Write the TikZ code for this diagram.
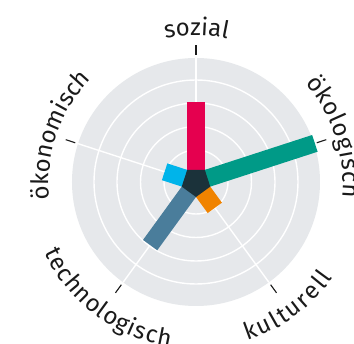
\documentclass[tikz,border=0pt]{standalone}
\usepackage{fontspec}
\setmainfont{Fira Sans}
\usetikzlibrary{decorations.text}
\definecolor{flaeche}{HTML}{E6E8EB}
\definecolor{kern}{HTML}{1B323A}
\definecolor{schrift}{HTML}{1A1A1A}
\definecolor{sozialrot}{HTML}{E5004F}
\definecolor{oekogruen}{HTML}{009A87}
\definecolor{kulturorange}{HTML}{F08300}
\definecolor{technoblau}{HTML}{4A7D9B}
\definecolor{oekonomblau}{HTML}{00B4EA}
\tikzset{
  ring/.style={white,line width=1.4pt},
  balken/.style={line width=17.6pt},
  achsentext/.style={decorate,decoration={text along path,text align={fit to path},
    text color=schrift,text={|\fontsize{24}{28}\selectfont|#1}}}
}
\begin{document}
\begin{tikzpicture}[x=1pt,y=1pt]
  % Rahmen
  \fill[white] (-196,-162) rectangle (158,182);
  \useasboundingbox (-196,-162) rectangle (158,182);
  % Scheibe mit Ringen
  \fill[flaeche] (0,0) circle (124);
  \foreach \r in {32,55.5,79,102}
    \draw[ring] (0,0) circle (\r);
  % Achsen und Striche
  \foreach \w in {90,18,-54,-126,162}{
    \draw[ring] (0,0) -- (\w:124);
    \draw[schrift,line width=1.1pt] (\w:127) -- (\w:137);
  }
  % Balken
  \foreach \w/\l/\c in {90/80/sozialrot,18/125/oekogruen,-54/32/kulturorange,-126/78/technoblau,162/33/oekonomblau}
    \draw[balken,\c] (0,0) -- (\w:\l);
  % Fuenfeck in der Mitte
  \fill[kern] (126:15) -- (54:15) -- (-18:15) -- (-90:15) -- (198:15) -- cycle;
  % Beschriftung oben
  \path[achsentext=sozial] (102:147) arc[start angle=102,end angle=78,radius=147];
  \path[achsentext=ökologisch] (42:147) arc[start angle=42,end angle=-6,radius=147];
  \path[achsentext=ökonomisch] (187:147) arc[start angle=187,end angle=138,radius=147];
  % Beschriftung unten
  \path[achsentext=technologisch] (-155:167) arc[start angle=-155,end angle=-99,radius=167];
  \path[achsentext=kulturell] (-72:167) arc[start angle=-72,end angle=-35,radius=167];
\end{tikzpicture}
\end{document}
